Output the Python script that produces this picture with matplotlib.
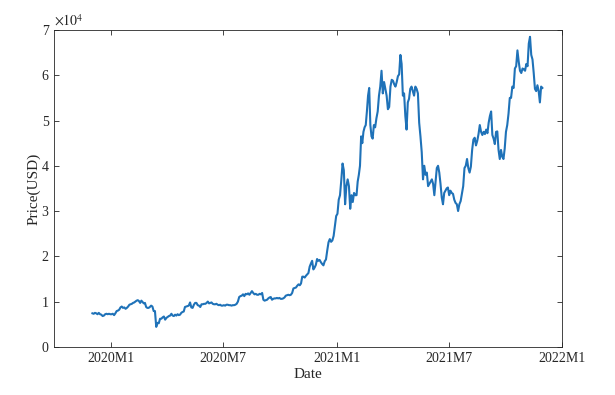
import numpy as np
import pandas as pd
import matplotlib
matplotlib.use("Agg")
import matplotlib.pyplot as plt

plt.rcParams['font.family'] = ['Liberation Serif', 'DejaVu Serif']
plt.rcParams['mathtext.fontset'] = 'stix'

# BTC price in thousand USD, 15 readings per month (Dec 2019 .. Nov 2021)
first_month = "2019-12-01"
price_k = [
    7.4, 7.3, 7.5, 7.4, 7.2, 7.5, 7.2, 7.1, 6.8, 6.9, 7.2, 7.3, 7.2, 7.3, 7.2,            # 2019-12
    7.2, 7.3, 7.0, 7.4, 7.9, 8.0, 8.2, 8.7, 8.9, 8.6, 8.7, 8.4, 8.6, 8.9, 9.3,            # 2020-01
    9.4, 9.5, 9.7, 9.8, 10.0, 10.2, 10.3, 10.1, 9.7, 10.2, 9.9, 9.6, 9.7, 8.8, 8.6,       # 2020-02
    8.6, 8.8, 9.1, 8.9, 7.9, 7.9, 4.4, 5.3, 5.2, 6.2, 6.2, 6.5, 6.7, 6.0, 6.4,            # 2020-03
    6.6, 6.8, 6.9, 7.3, 6.9, 6.8, 7.1, 6.9, 7.2, 7.0, 7.1, 7.5, 7.7, 7.8, 8.8,            # 2020-04
    8.9, 9.0, 9.1, 9.8, 8.7, 8.6, 9.3, 9.7, 9.7, 9.2, 9.1, 8.8, 9.4, 9.4, 9.5,            # 2020-05
    9.5, 9.7, 10.0, 9.6, 9.7, 9.8, 9.5, 9.4, 9.4, 9.5, 9.3, 9.2, 9.3, 9.1, 9.1,           # 2020-06
    9.2, 9.1, 9.3, 9.3, 9.2, 9.2, 9.1, 9.2, 9.2, 9.3, 9.5, 10.0, 11.0, 11.2, 11.3,        # 2020-07
    11.6, 11.2, 11.7, 11.6, 11.8, 11.5, 11.9, 12.3, 11.9, 11.6, 11.7, 11.5, 11.5, 11.7, 11.6,  # 2020-08
    11.9, 10.4, 10.2, 10.3, 10.4, 10.7, 10.9, 11.0, 10.4, 10.6, 10.7, 10.7, 10.8, 10.7, 10.8,  # 2020-09
    10.6, 10.6, 10.7, 10.9, 11.3, 11.4, 11.5, 11.4, 11.5, 11.9, 12.9, 13.0, 13.1, 13.5, 13.8,  # 2020-10
    13.6, 14.0, 15.5, 15.5, 15.3, 15.7, 16.0, 16.3, 17.7, 18.4, 19.0, 17.1, 17.5, 18.1, 19.4,  # 2020-11
    19.0, 19.2, 18.7, 18.3, 18.0, 18.9, 19.3, 21.3, 23.1, 23.8, 23.2, 23.5, 24.5, 26.8, 28.9,  # 2020-12
    29.4, 32.5, 33.5, 36.8, 40.5, 39.0, 31.5, 35.5, 37.0, 35.5, 30.5, 33.5, 32.0, 34.0, 33.5,  # 2021-01
    33.5, 36.5, 38.0, 40.0, 46.5, 45.0, 47.5, 48.5, 49.0, 52.0, 55.5, 57.2, 49.0, 46.5, 46.0,  # 2021-02
    49.0, 48.5, 50.5, 52.0, 55.5, 57.5, 61.0, 56.0, 58.5, 57.0, 55.5, 52.5, 53.0, 57.5, 59.0,  # 2021-03
    58.8, 58.0, 57.5, 58.5, 59.8, 60.2, 64.5, 62.5, 55.5, 56.0, 51.0, 48.0, 54.0, 54.8, 57.0,  # 2021-04
    57.5, 56.5, 55.5, 57.5, 57.0, 56.0, 49.5, 46.5, 43.0, 37.0, 40.0, 38.0, 38.5, 35.5, 36.0,  # 2021-05
    36.5, 37.0, 36.0, 33.5, 36.5, 39.5, 40.0, 38.5, 36.0, 33.0, 31.5, 34.0, 34.5, 35.0, 35.2,  # 2021-06
    33.5, 34.5, 34.0, 33.8, 32.5, 31.8, 31.5, 30.0, 31.5, 32.2, 33.8, 35.5, 39.5, 40.0, 41.5,  # 2021-07
    39.5, 38.5, 39.8, 43.5, 45.8, 46.2, 44.5, 45.5, 47.0, 49.0, 47.5, 46.8, 47.5, 47.0, 48.0,  # 2021-08
    47.2, 49.5, 51.0, 52.0, 46.8, 46.0, 44.8, 47.5, 47.6, 43.5, 41.5, 43.5, 42.0, 41.5, 43.8,  # 2021-09
    47.5, 49.0, 51.5, 55.0, 55.0, 57.5, 57.2, 61.5, 62.0, 65.5, 63.0, 61.0, 60.5, 61.5, 61.3,  # 2021-10
    61.0, 62.5, 62.0, 67.0, 68.5, 64.5, 63.5, 60.5, 57.0, 56.5, 57.8, 56.5, 54.0, 57.5, 57.2,  # 2021-11
]

per_month = 15
months = pd.date_range(first_month, periods=len(price_k) // per_month + 1, freq="MS")
dates = []
for i in range(len(price_k)):
    m, k = divmod(i, per_month)
    span = months[m + 1] - months[m]
    dates.append(months[m] + span * (k + 0.5) / per_month)
price = np.array(price_k) * 1000

tick_dates = pd.to_datetime(["2020-01-01", "2020-07-01", "2021-01-01", "2021-07-01", "2022-01-01"])
tick_labels = ["2020M1", "2020M7", "2021M1", "2021M7", "2022M1"]

axcol = "#262626"
fig = plt.figure(figsize=(6.15, 3.95), dpi=100)
ax = fig.add_axes([0.088, 0.122, 0.826, 0.802])
ax.plot(dates, price, color="#1F72B8", lw=1.5)

ax.set_xlim(pd.Timestamp("2019-10-01"), pd.Timestamp("2022-01-01"))
ax.set_ylim(0, 70000)
ax.set_xticks(tick_dates)
ax.set_xticklabels(tick_labels)
ax.set_yticks(np.arange(0, 70001, 10000))
ax.set_yticklabels([str(v) for v in range(8)])
ax.tick_params(direction="in", length=3.5, width=0.6, top=True, right=True,
               labelsize=10, colors=axcol, pad=4)
for s in ax.spines.values():
    s.set_color(axcol)
    s.set_linewidth(0.6)

ax.set_xlabel("Date", fontsize=11, color=axcol, labelpad=2)
ax.set_ylabel("Price(USD)", fontsize=11, color=axcol, labelpad=1)
ax.text(0.0, 1.005, r"$\times10^{4}$", transform=ax.transAxes, fontsize=10,
        color=axcol, ha="left", va="bottom")

fig.savefig("out.png", dpi=100)
